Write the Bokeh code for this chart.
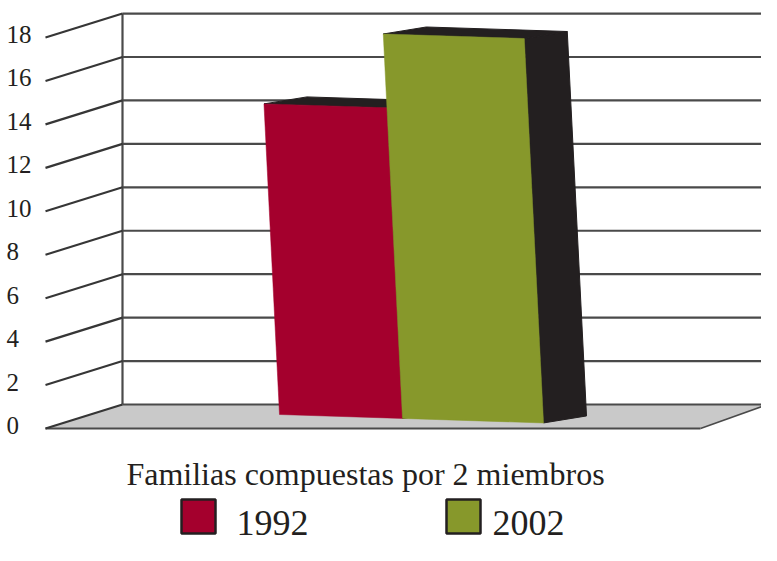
from bokeh.plotting import figure
from bokeh.models import Range1d
from bokeh.core.properties import value
from bokeh.embed import file_html
from bokeh.resources import INLINE

# ---- data ----
years = ["1992", "2002"]
values = [14.3, 17.7]
tick_values = [0, 2, 4, 6, 8, 10, 12, 14, 16, 18]
tick_labels = ["0", "2", "4", "6", "8", "10", "12", "14", "16", "18"]
category = "Familias compuestas por 2 miembros"

# ---- style ----
bar_colors = ["#a4002d", "#87982b"]
dark = "#231f20"
line_col = "#4a4a4a"
S = 21.72                 # pixels per unit (vertical)
Y0 = 428                  # pixel row of the front zero line
WALL_DY = 24 / S          # depth offset of back wall (units)
FRONT_X0, FRONT_X1 = 45, 700
BACK_X0, BACK_X1, GRID_X1 = 122, 767, 765
BAR_X0 = [279, 402]       # bottom-left x of each bar front face
BAR_W = [123, 141]
BAR_DX, BAR_DY = 43, 7 / S
BAR_BASE = 14 / S
X_REF = 279
SKEW_X = 0.05
SKEW_Y = 0.032
FONT = "Liberation Serif"
W, H = 761, 545


def py(pix):
    """pixel row -> value units"""
    return (Y0 - pix) / S


p = figure(width=W, height=H, x_range=Range1d(0, W),
           y_range=Range1d(py(H), py(0)),
           min_border=0, toolbar_location=None, output_backend="svg",
           x_axis_location=None, y_axis_location=None)
p.outline_line_color = None
p.grid.visible = False
p.background_fill_color = "white"
p.border_fill_color = "white"

# floor
p.patch([FRONT_X0, FRONT_X1, BACK_X1, BACK_X0], [0, 0, WALL_DY, WALL_DY],
        fill_color="#c9c9c9", line_color=None)
p.segment(x0=[FRONT_X0, BACK_X0, FRONT_X1], y0=[0, WALL_DY, 0],
          x1=[FRONT_X1, BACK_X1, BACK_X1], y1=[0, WALL_DY, WALL_DY],
          line_color=line_col, line_width=[2, 2, 1.5])

# back wall gridlines
grid_t = tick_values[1:]
p.segment(x0=[BACK_X0] * len(grid_t), y0=[t + WALL_DY for t in grid_t],
          x1=[GRID_X1] * len(grid_t), y1=[t + WALL_DY for t in grid_t],
          line_color=line_col, line_width=2.2)
# back wall vertical
p.segment(x0=[BACK_X0], y0=[tick_values[0] + WALL_DY], x1=[BACK_X0],
          y1=[tick_values[-1] + WALL_DY], line_color=line_col, line_width=2.2)
# side wall diagonal ticks
p.segment(x0=[FRONT_X0] * len(tick_values), y0=tick_values,
          x1=[BACK_X0] * len(tick_values), y1=[t + WALL_DY for t in tick_values],
          line_color="#363636", line_width=2.2)

# tick labels
p.text(x=[6] * len(tick_values), y=[t + 0.14 for t in tick_values], text=tick_labels,
       text_font=value(FONT), text_font_size="25px", text_color=dark,
       text_baseline="middle", text_align="left")


def yb(x):
    return BAR_BASE - SKEW_Y * (x - X_REF) / S


# bars
for i, v in enumerate(values):
    x0 = BAR_X0[i]
    w = BAR_W[i]
    sh = SKEW_X * v * S
    BL = (x0, yb(x0))
    BR = (x0 + w, yb(x0 + w))
    TL = (x0 - sh, yb(x0) + v)
    TR = (x0 + w - sh, yb(x0 + w) + v)

    def d(pt):
        return (pt[0] + BAR_DX, pt[1] + BAR_DY)

    side = [BR, d(BR), d(TR), TR]
    top = [TL, TR, d(TR), d(TL)]
    front = [BL, BR, TR, TL]
    p.patches(xs=[[q[0] for q in side], [q[0] for q in top]],
              ys=[[q[1] for q in side], [q[1] for q in top]],
              fill_color=dark, line_color=dark, line_width=1)
    p.patch([q[0] for q in front], [q[1] for q in front],
            fill_color=bar_colors[i], line_color=bar_colors[i], line_width=0.5)

# category label
p.text(x=[365], y=[py(473)], text=[category], text_font=value(FONT),
       text_font_size="32px", text_color=dark, text_align="center",
       text_baseline="alphabetic")

# legend
leg_sq_x = [181, 446]
leg_txt_x = [236, 492]
p.quad(left=leg_sq_x, right=[x + 34 for x in leg_sq_x],
       top=[py(499)] * 2, bottom=[py(533)] * 2,
       fill_color=bar_colors, line_color=dark, line_width=2.5)
p.text(x=leg_txt_x, y=[py(522)] * 2, text=years, text_font=value(FONT),
       text_font_size="36px", text_color=dark, text_align="left",
       text_baseline="alphabetic")

open("out.html", "w").write(file_html(p, INLINE))
